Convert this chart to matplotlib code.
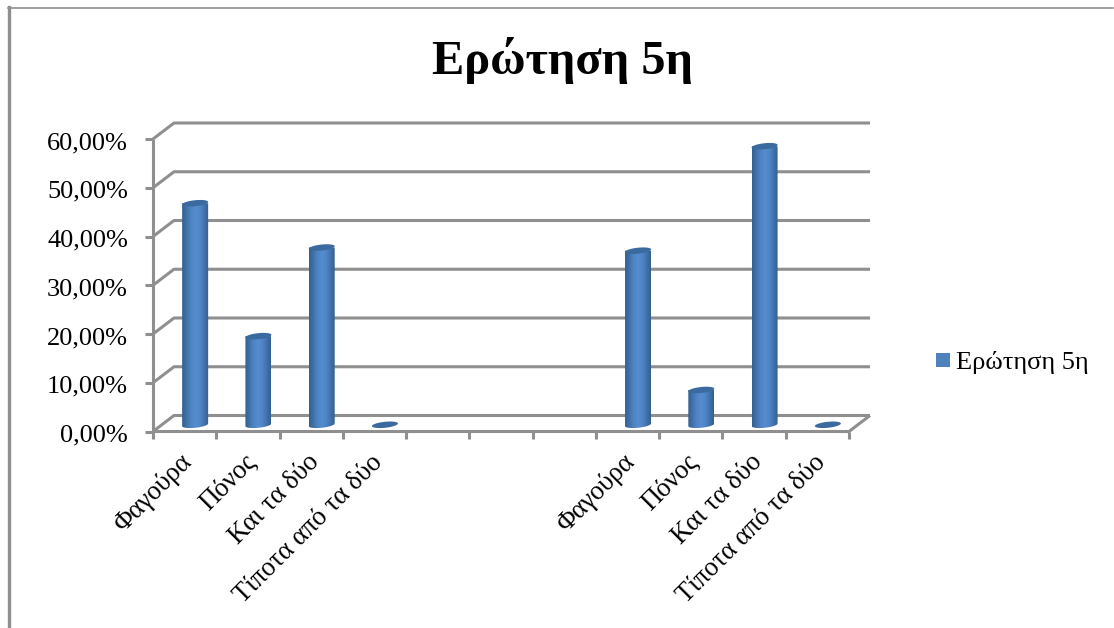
#!/usr/bin/env python3

import matplotlib
matplotlib.use('Agg')
import matplotlib.pyplot as plt
from matplotlib.colors import LinearSegmentedColormap
from matplotlib.lines import Line2D
from matplotlib.patches import Polygon, Rectangle
import numpy as np

### DATA
categories = ['Φαγούρα', 'Πόνος', 'Και τα δύο', 'Τίποτα από τα δύο', '', '', '',
              'Φαγούρα', 'Πόνος', 'Και τα δύο', 'Τίποτα από τα δύο']
values = [45.45, 18.18, 36.36, 0, None, None, None, 35.71, 7.14, 57.14, 0]
yticks = [0, 10, 20, 30, 40, 50, 60]
yticklabels = ['0,00%', '10,00%', '20,00%', '30,00%', '40,00%', '50,00%', '60,00%']
series = 'Ερώτηση 5η'
title = 'Ερώτηση 5η'

### CONFIG
W, H = 1114, 628
GREY = '#8f8f8f'
plt.rcParams['font.family'] = ['Liberation Serif', 'DejaVu Serif']

fig = plt.figure(figsize=(W / 100, H / 100), dpi=100, facecolor='white')
ax = fig.add_axes([153 / W, 1 - 431.5 / H, 696 / W, 292.5 / H])
ax.set_xlim(0, len(categories))
ax.set_ylim(0, 60)
ax.axis('off')

# pixel sizes turned into data units
px_x = len(categories) / 696
px_y = 60 / 292.5
depth_x = 21 * px_x
depth_y = 16 * px_y

### 3D FRAME
line_kw = dict(color=GREY, lw=2.2, clip_on=False, solid_capstyle='butt', zorder=1)
n = len(categories)
for t in yticks:
    ax.add_line(Line2D([0, depth_x, n + depth_x], [t, t + depth_y, t + depth_y], **line_kw))
    ax.add_line(Line2D([-8 * px_x, 0], [t, t], **line_kw))
# floor edges and front axis
ax.add_line(Line2D([0, 0], [0, 60], **line_kw))
ax.add_line(Line2D([0, n, n + depth_x], [0, 0, depth_y], **line_kw))
for i in range(n + 1):
    ax.add_line(Line2D([i, i], [0, -7 * px_y], **line_kw))

### CYLINDERS
side = LinearSegmentedColormap.from_list(
    'side', ['#33608f', '#4272ab', '#4f84c4', '#558dcf', '#5086c6', '#4273ad', '#34608f'])
shade = np.linspace(0, 1, 64).reshape(1, -1)
half_w = 13 * px_x
t = np.linspace(0, 2 * np.pi, 80)
ell_x = half_w * np.cos(t)
ell_y = 3.0 * px_y * np.sin(t) + 1.3 * px_y * np.cos(t)

for i, val in enumerate(values):
    if val is None:
        continue
    cx = i + 0.5 + depth_x / 2
    base = depth_y * 0.42
    top = base + val
    if val > 0:
        # body clipped to the rounded lower edge
        im = ax.imshow(shade, cmap=side, aspect='auto', zorder=3,
                       extent=[cx - half_w, cx + half_w, base - 4 * px_y, top])
        outline = np.column_stack([
            np.r_[cx - half_w, cx + ell_x[40:], cx + half_w, cx + half_w, cx - half_w],
            np.r_[base + ell_y[40], base + ell_y[40:], base + ell_y[-1], top, top]])
        im.set_clip_path(Polygon(outline, transform=ax.transData))
    ax.add_patch(Polygon(np.column_stack([cx + ell_x, top + ell_y]), closed=True,
                         fc='#3b6a9f', ec='none', zorder=4, clip_on=False))

### TEXT
for t_val, lab in zip(yticks, yticklabels):
    ax.annotate(lab, xy=(0, t_val), xytext=(-25, -4), textcoords='offset pixels',
                ha='right', va='center', fontsize=19, color='black', annotation_clip=False)
for i, lab in enumerate(categories):
    if lab:
        ax.annotate(lab, xy=(i + 0.5, 0), xytext=(4, -27), textcoords='offset pixels',
                    ha='right', va='center', rotation=45, rotation_mode='anchor',
                    fontsize=19.2, color='black', annotation_clip=False)

fig.text(563 / W, 1 - 60 / H, title, ha='center', va='center',
         fontsize=34.8, fontweight='bold', color='black')

# legend swatch and label
fig.add_artist(Rectangle((936 / W, 1 - 367 / H), 14 / W, 14 / H, transform=fig.transFigure,
                         fc='#4f81bd', ec='none'))
fig.text(956 / W, 1 - 362 / H, series, ha='left', va='center', fontsize=19, color='black')

# outer chart border
fig.add_artist(Line2D([8.5 / W, 8.5 / W], [0, 1 - 7 / H], color=GREY, lw=2.4))
fig.add_artist(Line2D([8 / W, 1113 / W], [1 - 7.5 / H, 1 - 7.5 / H], color=GREY, lw=1.2))

fig.savefig('out.png', dpi=100, facecolor='white')
